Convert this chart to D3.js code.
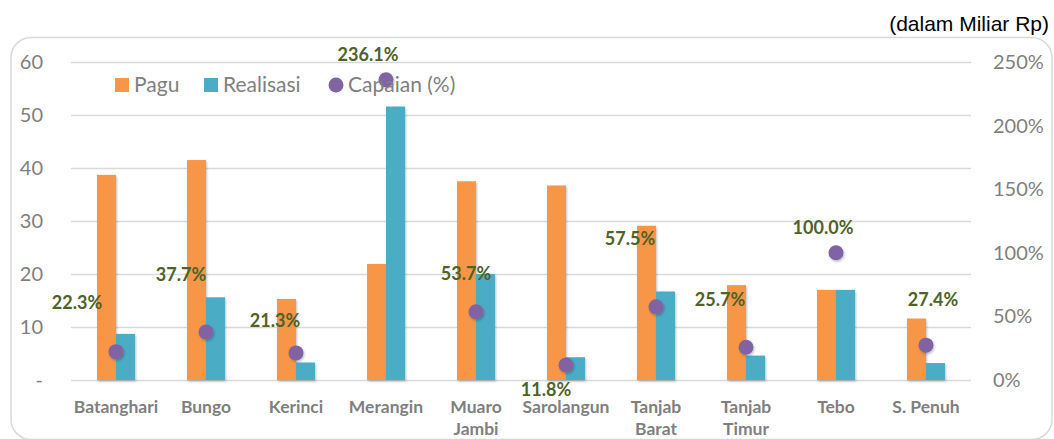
<!DOCTYPE html>
<html>
<head>
<meta charset="utf-8">
<script src="https://cdn.jsdelivr.net/npm/d3@7"></script>
<style>
  body { margin: 0; background: #fff; }
  svg { display: block; }
</style>
</head>
<body>
<div id="chart"></div>
<script>
// values (miliar Rp / %)
var categories = [['Batanghari'], ['Bungo'], ['Kerinci'], ['Merangin'], ['Muaro', 'Jambi'],
    ['Sarolangun'], ['Tanjab', 'Barat'], ['Tanjab', 'Timur'], ['Tebo'], ['S. Penuh']];
var pagu = [38.7, 41.5, 15.3, 21.9, 37.5, 36.7, 29.1, 17.9, 17.0, 11.6];
var realisasi = [8.7, 15.6, 3.3, 51.6, 20.0, 4.3, 16.7, 4.6, 17.0, 3.2];
var capaian = [22.3, 37.7, 21.3, 236.1, 53.7, 11.8, 57.5, 25.7, 100.0, 27.4];
var leftTicks = [0, 10, 20, 30, 40, 50, 60];
var rightTicks = [0, 50, 100, 150, 200, 250];
var seriesNames = ['Pagu', 'Realisasi', 'Capaian (%)'];

// label offsets from the point (they were dragged by hand in the original)
var labelOffset = [[-39, -49], [-25, -58], [-21, -32], [-18, -25], [-10, -38],
    [-20, 25], [-26, -68], [-26, -48], [-13, -25], [7, -46]];

var W = 1054, H = 439;
var colors = {Pagu: '#f79646', Realisasi: '#4bacc6', Capaian: '#8064a2'};
var grey = '#7f7f7f';
var font = 'Lato, "Open Sans", sans-serif';

var svg = d3.select('#chart').append('svg')
    .attr('width', W)
    .attr('height', H);

var defs = svg.append('defs');
defs.append('filter').attr('id', 'shadow')
    .attr('x', '-50%').attr('y', '-50%').attr('width', '200%').attr('height', '200%')
    .append('feDropShadow')
    .attr('dx', 1).attr('dy', 1.5).attr('stdDeviation', 1.2)
    .attr('flood-color', '#000').attr('flood-opacity', 0.25);

// frame
svg.append('rect')
    .attr('x', 11).attr('y', 37.5)
    .attr('width', 1041).attr('height', 402)
    .attr('rx', 20).attr('ry', 20)
    .attr('fill', 'none')
    .attr('stroke', '#d9d9d9')
    .attr('stroke-width', 1.5);

svg.append('text')
    .attr('x', 1049).attr('y', 31)
    .attr('text-anchor', 'end')
    .attr('font-family', '"Liberation Sans", Arial, sans-serif')
    .attr('font-size', 21)
    .attr('fill', '#000')
    .text('(dalam Miliar Rp)');

var x = d3.scaleBand().domain(d3.range(categories.length)).range([71, 971]);
var x1 = d3.scaleBand().domain(['Pagu', 'Realisasi']).range([0, x.bandwidth()]).paddingOuter(1.37);
var y = d3.scaleLinear().domain([0, 60]).range([380, 62]);
var y2 = d3.scaleLinear().domain([0, 250]).range([380, 62]);

// gridlines
svg.append('g').selectAll('line')
    .data(leftTicks)
    .enter().append('line')
    .attr('x1', 71).attr('x2', 971)
    .attr('y1', function (d) { return y(d) + 0.5; })
    .attr('y2', function (d) { return y(d) + 0.5; })
    .attr('stroke', '#d9d9d9')
    .attr('stroke-width', 1.5);

// left axis
var leftAxis = svg.append('g')
    .attr('transform', 'translate(43,0)')
    .call(d3.axisLeft(y).tickValues(leftTicks).tickSize(0).tickPadding(0)
        .tickFormat(function (d) { return d === 0 ? '-' : d; }));
leftAxis.select('.domain').remove();
leftAxis.selectAll('text')
    .attr('font-family', font).attr('font-size', 20).attr('fill', grey);

// right axis
var rightAxis = svg.append('g')
    .attr('transform', 'translate(993,0)')
    .call(d3.axisRight(y2).tickValues(rightTicks).tickSize(0).tickPadding(0)
        .tickFormat(function (d) { return d + '%'; }));
rightAxis.select('.domain').remove();
rightAxis.selectAll('text')
    .attr('font-family', font).attr('font-size', 20).attr('fill', grey);

// bars
var groups = svg.append('g').selectAll('g')
    .data(categories.map(function (c, i) { return i; }))
    .enter().append('g')
    .attr('transform', function (i) { return 'translate(' + x(i) + ',0)'; });

groups.selectAll('rect')
    .data(function (i) { return [{k: 'Pagu', v: pagu[i]}, {k: 'Realisasi', v: realisasi[i]}]; })
    .enter().append('rect')
    .attr('x', function (d) { return x1(d.k); })
    .attr('width', x1.bandwidth())
    .attr('y', function (d) { return y(d.v); })
    .attr('height', function (d) { return y(0) - y(d.v); })
    .attr('fill', function (d) { return colors[d.k]; })
    .attr('filter', 'url(#shadow)');

// capaian points
svg.append('g').selectAll('circle')
    .data(capaian)
    .enter().append('circle')
    .attr('cx', function (d, i) { return x(i) + x.bandwidth() / 2; })
    .attr('cy', function (d) { return y2(d); })
    .attr('r', 7.5)
    .attr('fill', colors.Capaian)
    .attr('filter', 'url(#shadow)');

svg.append('g').selectAll('text')
    .data(capaian)
    .enter().append('text')
    .attr('x', function (d, i) { return x(i) + x.bandwidth() / 2 + labelOffset[i][0]; })
    .attr('y', function (d, i) { return y2(d) + labelOffset[i][1]; })
    .attr('dy', '0.36em')
    .attr('text-anchor', 'middle')
    .attr('font-family', font)
    .attr('font-weight', 'bold')
    .attr('font-size', 18)
    .attr('fill', '#4f6228')
    .text(function (d) { return d.toFixed(1) + '%'; });

// category labels
var cat = svg.append('g').selectAll('text')
    .data(categories)
    .enter().append('text')
    .attr('x', function (d, i) { return x(i) + x.bandwidth() / 2; })
    .attr('y', 413)
    .attr('text-anchor', 'middle')
    .attr('font-family', font)
    .attr('font-weight', 'bold')
    .attr('font-size', 17.5)
    .attr('fill', grey);
cat.selectAll('tspan')
    .data(function (d) { return d; })
    .enter().append('tspan')
    .attr('x', function () { return this.parentNode.getAttribute('x'); })
    .attr('dy', function (d, i) { return i === 0 ? 0 : 22; })
    .text(function (d) { return d; });

// legend
var legendX = [115, 204, 329];
var legend = svg.append('g').selectAll('g')
    .data(seriesNames)
    .enter().append('g')
    .attr('transform', function (d, i) { return 'translate(' + legendX[i] + ',85)'; });
legend.each(function (d, i) {
    var g = d3.select(this);
    if (i < 2) {
        g.append('rect').attr('x', 0).attr('y', -7).attr('width', 14).attr('height', 14)
            .attr('fill', colors[d]);
    } else {
        g.append('circle').attr('cx', 7).attr('cy', 0).attr('r', 7.5).attr('fill', colors.Capaian);
    }
    g.append('text')
        .attr('x', 19).attr('y', 0).attr('dy', '0.35em')
        .attr('font-family', font).attr('font-size', 21).attr('fill', grey)
        .text(d);
});
</script>
</body>
</html>
